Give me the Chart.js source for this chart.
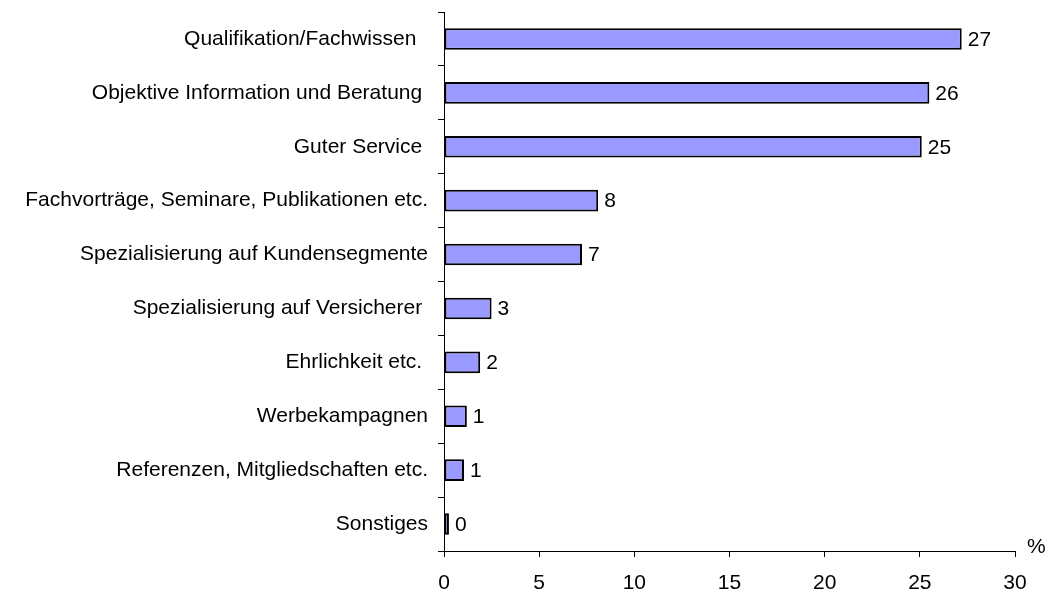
<!DOCTYPE html>
<html>
<head>
<meta charset="utf-8">
<script src="https://cdn.jsdelivr.net/npm/chart.js@4"></script>
<style>
html,body{margin:0;padding:0;background:#fff;}
#wrap{width:1045px;height:590px;position:relative;}
</style>
</head>
<body>
<div id="wrap"><canvas id="c" width="1045" height="590"></canvas></div>
<script>
const categories = [
  "Qualifikation/Fachwissen  ",
  "Objektive Information und Beratung ",
  "Guter Service ",
  "Fachvorträge, Seminare, Publikationen etc.",
  "Spezialisierung auf Kundensegmente",
  "Spezialisierung auf Versicherer ",
  "Ehrlichkeit etc. ",
  "Werbekampagnen",
  "Referenzen, Mitgliedschaften etc.",
  "Sonstiges"
];
const values = [27.2, 25.5, 25.1, 8.1, 7.25, 2.5, 1.9, 1.2, 1.05, 0.26];
const valueLabels = ["27", "26", "25", "8", "7", "3", "2", "1", "1", "0"];
const xTicks = [0, 5, 10, 15, 20, 25, 30];
const unitLabel = "%";

const FONT = "'Liberation Sans', Arial, sans-serif";
const FS = 21;

const valuePlugin = {
  id: 'valueLabels',
  afterDatasetsDraw(chart) {
    const ctx = chart.ctx;
    const meta = chart.getDatasetMeta(0);
    ctx.save();
    ctx.fillStyle = '#000';
    ctx.font = FS + 'px ' + FONT;
    ctx.textAlign = 'left';
    ctx.textBaseline = 'middle';
    meta.data.forEach((bar, i) => {
      ctx.fillText(valueLabels[i], bar.x + 6, bar.y + 1);
    });
    const xs = chart.scales.x;
    ctx.fillText(unitLabel, xs.right + 12, xs.top - 4);
    ctx.restore();
  }
};

new Chart(document.getElementById('c'), {
  type: 'bar',
  data: {
    labels: categories,
    datasets: [{
      data: values,
      backgroundColor: '#9999FF',
      borderColor: '#000000',
      borderWidth: 2,
      borderSkipped: false,
      barPercentage: 0.4,
      categoryPercentage: 1.0
    }]
  },
  options: {
    indexAxis: 'y',
    responsive: false,
    animation: false,
    devicePixelRatio: 1,
    layout: { padding: { top: 12, right: 30, left: 0, bottom: 0 } },
    plugins: { legend: { display: false }, tooltip: { enabled: false } },
    scales: {
      x: {
        min: 0, max: 30,
        afterBuildTicks(axis) { axis.ticks = xTicks.map(v => ({ value: v })); },
        afterFit(axis) { axis.height = 39; axis.paddingLeft = 0; axis.paddingRight = 0; },
        border: { display: true, color: '#000', width: 1 },
        grid: { drawOnChartArea: false, drawTicks: true, tickLength: 6, color: '#000', lineWidth: 1 },
        ticks: { color: '#000', font: { size: FS, family: FONT }, padding: 14, maxRotation: 0 }
      },
      y: {
        afterFit(axis) { axis.width = 444; axis.paddingTop = 0; axis.paddingBottom = 0; },
        border: { display: true, color: '#000', width: 1 },
        grid: { drawOnChartArea: false, drawTicks: true, tickLength: 6, color: '#000', lineWidth: 1, offset: true },
        ticks: { color: '#000', font: { size: FS, family: FONT }, padding: 10, autoSkip: false }
      }
    }
  },
  plugins: [valuePlugin]
});
</script>
</body>
</html>
